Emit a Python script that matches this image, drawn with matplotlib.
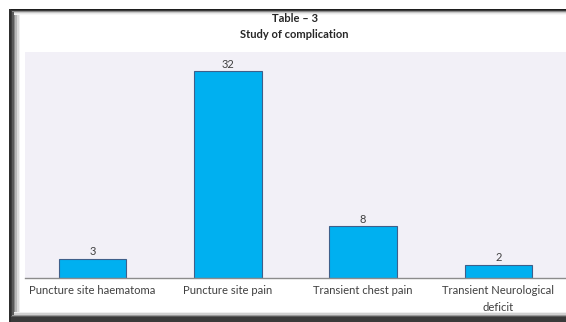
import matplotlib
matplotlib.use("Agg")
import matplotlib.pyplot as plt
from matplotlib.patches import Rectangle

categories = ["Puncture site haematoma", "Puncture site pain",
              "Transient chest pain", "Transient Neurological\ndeficit"]
counts = [3, 32, 8, 2]
title_lines = ["Table \u2013 3", "Study of complication"]

W, H = 566, 322
plt.rcParams['font.family'] = ['Lato', 'DejaVu Sans']

fig = plt.figure(figsize=(W / 100, H / 100), dpi=100)
fig.patch.set_facecolor('white')

# frame with a soft shadow, drawn in pixel coordinates
bg = fig.add_axes([0, 0, 1, 1])
bg.set_xlim(0, W)
bg.set_ylim(H, 0)
bg.axis('off')
left_shades = ['#2e2e2e', '#3c3c3c', '#5a5a5a', '#8a8a8a', '#b8b8b8', '#dcdcdc', '#f0f0f0']
for i, c in enumerate(left_shades):
    bg.add_patch(Rectangle((9 + 1.6 * i, 9), 1.6, H - 9, color=c, lw=0))
top_shades = ['#1e1e1e', '#3a3a3a', '#8a8a8a', '#c8c8c8', '#e8e8e8', '#f6f6f6']
for i, c in enumerate(top_shades):
    bg.add_patch(Rectangle((9 + 1.6 * min(i, 3), 9 + 1.0 * i), W, 1.0, color=c, lw=0))
bottom_shades = ['#3a3a3a', '#5a5a5a', '#9a9a9a', '#d0d0d0', '#eeeeee']
for i, c in enumerate(bottom_shades):
    y = H - 5 - 1.2 * i
    bg.add_patch(Rectangle((9 + 1.6 * min(i, 3), y), W, 5 if i == 0 else 1.2, color=c, lw=0))
bg.add_patch(Rectangle((9, 9), 2.0, H - 9, color='#2e2e2e', lw=0))

left, right, top, base = 25, 566, 52, 278
ax = fig.add_axes([left / W, (H - base) / H, (right - left) / W, (base - top) / H])
ax.set_facecolor('#f2f0f7')

x = range(len(categories))
bars = ax.bar(x, counts, width=0.5, color='#00b0f0', edgecolor='#3f5f8a', linewidth=0.8)
for b, v in zip(bars, counts):
    ax.text(b.get_x() + b.get_width() / 2, v + 0.25, str(v), ha='center', va='bottom',
            fontsize=8, color='#404040')

ax.set_xlim(-0.5, len(categories) - 0.5)
ax.set_ylim(0, 35)
ax.set_yticks([])
ax.set_xticks(list(x))
ax.set_xticklabels(categories, fontsize=8.1, color='#404040', linespacing=1.65)
ax.tick_params(axis='x', length=0, pad=5)
for s in ['top', 'right', 'left']:
    ax.spines[s].set_visible(False)
ax.spines['bottom'].set_color('#8c8c8c')
ax.spines['bottom'].set_linewidth(1.0)

cx = ((left + right) / 2 - 1) / W
fig.text(cx, 1 - 19 / H, title_lines[0], ha='center', va='center', fontsize=8,
         fontweight='bold', color='#262626')
fig.text(cx, 1 - 34 / H, title_lines[1], ha='center', va='center', fontsize=8,
         fontweight='bold', color='#262626')

fig.savefig('out.png', dpi=100)
